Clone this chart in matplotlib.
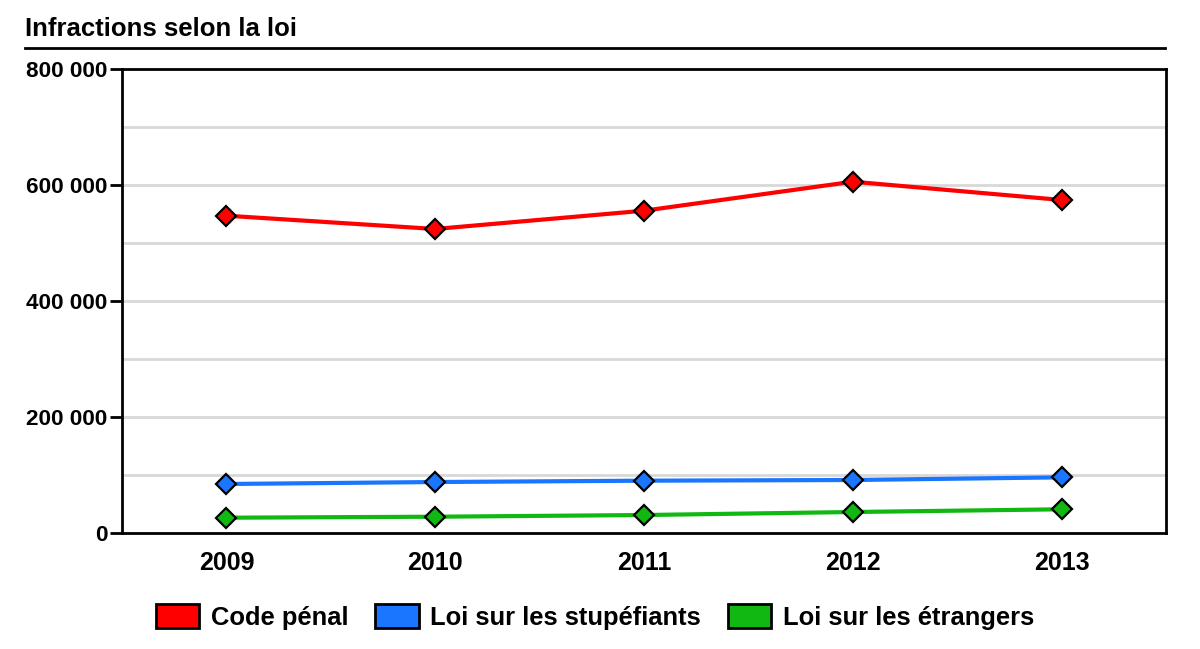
import matplotlib
matplotlib.use("Agg")
import matplotlib.pyplot as plt
from matplotlib.patches import Patch
from matplotlib.lines import Line2D

plt.rcParams['font.family'] = ['Liberation Sans', 'DejaVu Sans']

years = ["2009", "2010", "2011", "2012", "2013"]
code_penal = [547600, 524700, 556200, 606200, 574700]
stupefiants = [85000, 88400, 90700, 91900, 96500]
etrangers = [26900, 28600, 31500, 36700, 41400]
series_names = ["Code pénal", "Loi sur les stupéfiants", "Loi sur les étrangers"]
colors = ["#ff0000", "#1a75ff", "#12b812"]
y_ticks = [0, 200000, 400000, 600000, 800000]
y_tick_labels = ["0", "200 000", "400 000", "600 000", "800 000"]
grid_vals = [100000, 200000, 300000, 400000, 500000, 600000, 700000]

fig = plt.figure(figsize=(12, 6.49), dpi=100)
ax = fig.add_axes([122/1200, 1-533.3/649, (1166-122)/1200, (533.3-69.3)/649])

x = list(range(len(years)))
for g in grid_vals:
    ax.axhline(g, color="#d8d8d8", lw=2, zorder=0)

for vals, c in zip([code_penal, stupefiants, etrangers], colors):
    ax.plot(x, vals, color=c, lw=3, marker="D", markersize=10,
            markerfacecolor=c, markeredgecolor="black", markeredgewidth=1.6, zorder=3)

ax.set_xlim(-0.5, len(years) - 0.5)
ax.set_ylim(0, 800000)
ax.set_xticks(x)
ax.set_xticklabels(years, fontsize=18, fontweight="bold")
ax.set_yticks(y_ticks)
ax.set_yticklabels(y_tick_labels, fontsize=16.2, fontweight="bold")
ax.tick_params(axis="x", length=0, pad=13)
ax.tick_params(axis="y", length=9, width=2, pad=1.5, direction="out")
for s in ax.spines.values():
    s.set_linewidth(2)
    s.set_color("black")

fig.text(25/1200, 1-29/649, "Infractions selon la loi", fontsize=18.5, fontweight="bold",
         va="center", ha="left")
fig.add_artist(Line2D([25/1200, 1165/1200], [1-48/649, 1-48/649], color="black", lw=2,
                      transform=fig.transFigure))

handles = [Patch(facecolor=c, edgecolor="black", linewidth=2) for c in colors]
leg = fig.legend(handles, series_names, loc="center", bbox_to_anchor=(595/1200, 1-617/649),
                 ncol=3, frameon=False, handlelength=1.7, handleheight=1.08,
                 handletextpad=0.45, columnspacing=1.05,
                 prop={"size": 18.4, "weight": "bold"})

fig.savefig("out.png", dpi=100, facecolor="white")
